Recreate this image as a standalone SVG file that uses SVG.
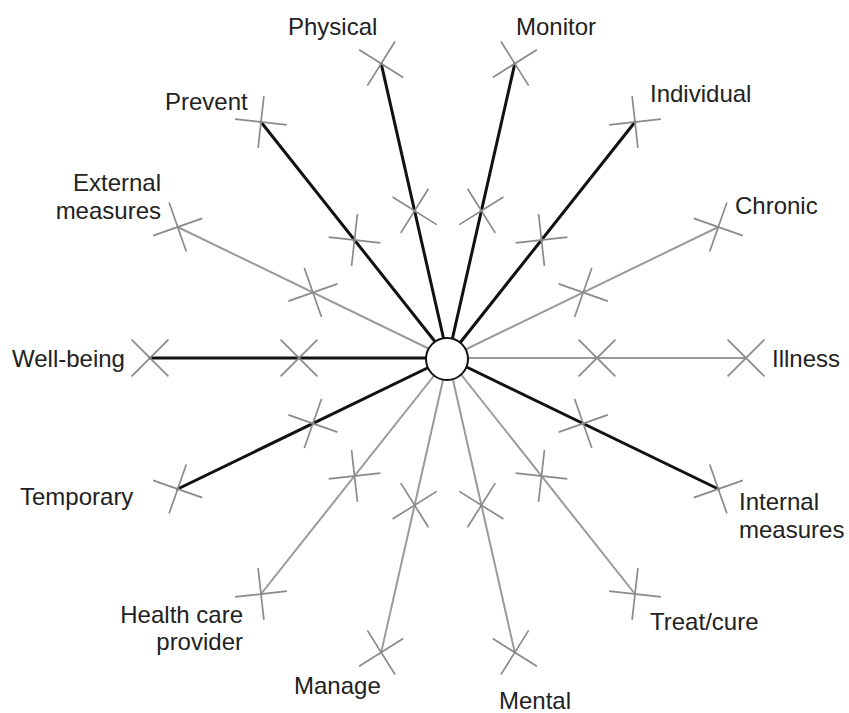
<svg xmlns="http://www.w3.org/2000/svg" xmlns:xlink="http://www.w3.org/1999/xlink" width="849" height="713" viewBox="0 0 849 713">
  <style>
    .bg { fill: #ffffff; }
    .spoke-strong { stroke: #111111; stroke-width: 3; stroke-linecap: round; fill: none; }
    .spoke-light { stroke: #9a9a9a; stroke-width: 2; stroke-linecap: round; fill: none; }
    .tick { stroke: #8a8a8a; stroke-width: 1.7; fill: none; stroke-linecap: butt; }
    .hub { fill: #ffffff; stroke: #111111; stroke-width: 2; }
    .label { font-family: "Liberation Sans", Arial, Helvetica, sans-serif; font-size: 24px; fill: #222222; }
    .end { text-anchor: end; }
  </style>
  <defs>
    <!-- cross mark, rotated with its spoke -->
    <path id="cross" d="M-18.4,-18.4 L18.4,18.4 M-18.4,18.4 L18.4,-18.4"/>
  </defs>

  <rect class="bg" x="0" y="0" width="849" height="713"/>

  <!-- spokes from the hub to each pole -->
  <g id="connectors">
    <line class="spoke-light"  x1="448" y1="358" x2="746"   y2="358"/>
    <line class="spoke-light"  x1="448" y1="358" x2="718.3" y2="227"/>
    <line class="spoke-strong" x1="448" y1="358" x2="635"   y2="122"/>
    <line class="spoke-strong" x1="448" y1="358" x2="514.8" y2="63.6"/>
    <line class="spoke-strong" x1="448" y1="358" x2="381.2" y2="63.6"/>
    <line class="spoke-strong" x1="448" y1="358" x2="261"   y2="122"/>
    <line class="spoke-light"  x1="448" y1="358" x2="177.7" y2="227"/>
    <line class="spoke-strong" x1="448" y1="358" x2="150"   y2="358"/>
    <line class="spoke-strong" x1="448" y1="358" x2="177.7" y2="489"/>
    <line class="spoke-light"  x1="448" y1="358" x2="261"   y2="594"/>
    <line class="spoke-light"  x1="448" y1="358" x2="381.2" y2="652.4"/>
    <line class="spoke-light"  x1="448" y1="358" x2="514.8" y2="652.4"/>
    <line class="spoke-light"  x1="448" y1="358" x2="635"   y2="594"/>
    <line class="spoke-strong" x1="448" y1="358" x2="718.3" y2="489"/>

    <!-- midpoint marks -->
    <use xlink:href="#cross" class="tick" transform="translate(597,358)"/>
    <use xlink:href="#cross" class="tick" transform="translate(583.2,292.5) rotate(-25.71)"/>
    <use xlink:href="#cross" class="tick" transform="translate(541.5,240) rotate(-51.43)"/>
    <use xlink:href="#cross" class="tick" transform="translate(481.4,210.8) rotate(-77.14)"/>
    <use xlink:href="#cross" class="tick" transform="translate(414.6,210.8) rotate(-102.86)"/>
    <use xlink:href="#cross" class="tick" transform="translate(354.5,240) rotate(-128.57)"/>
    <use xlink:href="#cross" class="tick" transform="translate(312.9,292.5) rotate(-154.29)"/>
    <use xlink:href="#cross" class="tick" transform="translate(299,358)"/>
    <use xlink:href="#cross" class="tick" transform="translate(312.9,423.5) rotate(-205.71)"/>
    <use xlink:href="#cross" class="tick" transform="translate(354.5,476) rotate(-231.43)"/>
    <use xlink:href="#cross" class="tick" transform="translate(414.6,505.2) rotate(-257.14)"/>
    <use xlink:href="#cross" class="tick" transform="translate(481.4,505.2) rotate(-282.86)"/>
    <use xlink:href="#cross" class="tick" transform="translate(541.5,476) rotate(-308.57)"/>
    <use xlink:href="#cross" class="tick" transform="translate(583.2,423.5) rotate(-334.29)"/>
  </g>

  <!-- hub -->
  <g id="hub">
    <circle class="hub" cx="447" cy="359" r="21"/>
  </g>

  <!-- poles: end mark + label -->
  <g id="illness">
    <use xlink:href="#cross" class="tick" transform="translate(746,358)"/>
    <text class="label" x="772" y="367">Illness</text>
  </g>
  <g id="chronic">
    <use xlink:href="#cross" class="tick" transform="translate(718.3,227) rotate(-25.71)"/>
    <text class="label" x="735" y="214">Chronic</text>
  </g>
  <g id="individual">
    <use xlink:href="#cross" class="tick" transform="translate(635,122) rotate(-51.43)"/>
    <text class="label" x="650" y="102">Individual</text>
  </g>
  <g id="monitor">
    <use xlink:href="#cross" class="tick" transform="translate(514.8,63.6) rotate(-77.14)"/>
    <text class="label" x="516" y="35">Monitor</text>
  </g>
  <g id="physical">
    <use xlink:href="#cross" class="tick" transform="translate(381.2,63.6) rotate(-102.86)"/>
    <text class="label" x="288" y="35">Physical</text>
  </g>
  <g id="prevent">
    <use xlink:href="#cross" class="tick" transform="translate(261,122) rotate(-128.57)"/>
    <text class="label" x="165" y="110">Prevent</text>
  </g>
  <g id="external-measures">
    <use xlink:href="#cross" class="tick" transform="translate(177.7,227) rotate(-154.29)"/>
    <text class="label end" x="161" y="191">External</text>
    <text class="label end" x="161" y="219">measures</text>
  </g>
  <g id="well-being">
    <use xlink:href="#cross" class="tick" transform="translate(150,358)"/>
    <text class="label" x="12" y="367">Well-being</text>
  </g>
  <g id="temporary">
    <use xlink:href="#cross" class="tick" transform="translate(177.7,489) rotate(-205.71)"/>
    <text class="label" x="20" y="505">Temporary</text>
  </g>
  <g id="health-care-provider">
    <use xlink:href="#cross" class="tick" transform="translate(261,594) rotate(-231.43)"/>
    <text class="label end" x="243" y="623">Health care</text>
    <text class="label end" x="243" y="650">provider</text>
  </g>
  <g id="manage">
    <use xlink:href="#cross" class="tick" transform="translate(381.2,652.4) rotate(-257.14)"/>
    <text class="label" x="294" y="694">Manage</text>
  </g>
  <g id="mental">
    <use xlink:href="#cross" class="tick" transform="translate(514.8,652.4) rotate(-282.86)"/>
    <text class="label" x="499" y="709">Mental</text>
  </g>
  <g id="treat-cure">
    <use xlink:href="#cross" class="tick" transform="translate(635,594) rotate(-308.57)"/>
    <text class="label" x="650" y="630">Treat/cure</text>
  </g>
  <g id="internal-measures">
    <use xlink:href="#cross" class="tick" transform="translate(718.3,489) rotate(-334.29)"/>
    <text class="label" x="739" y="510">Internal</text>
    <text class="label" x="739" y="538">measures</text>
  </g>
</svg>
